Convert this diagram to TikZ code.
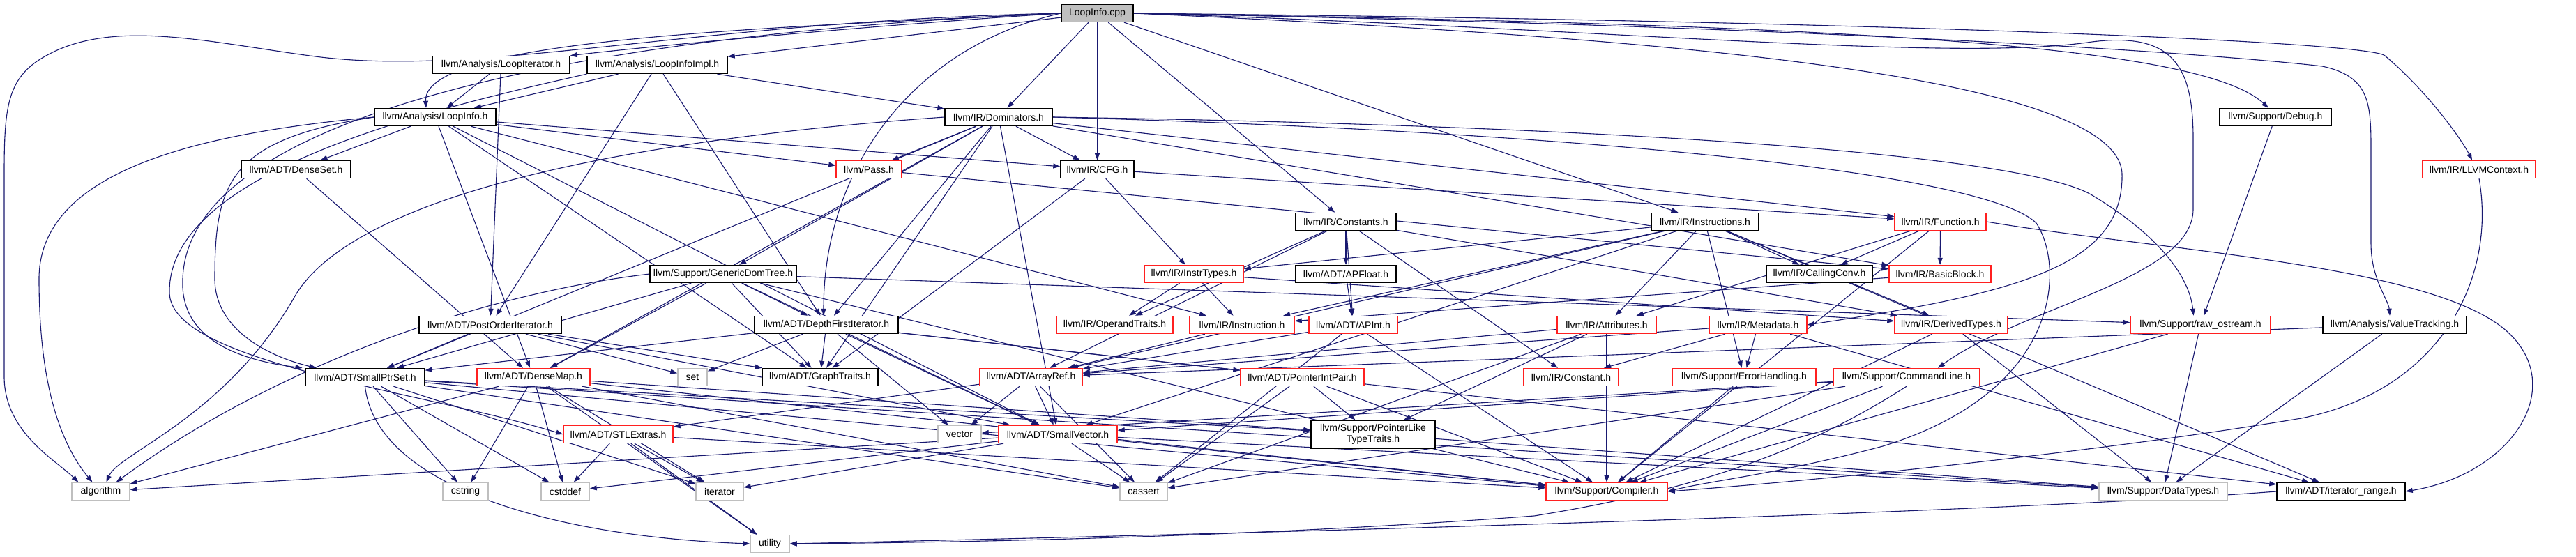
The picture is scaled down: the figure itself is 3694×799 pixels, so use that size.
\documentclass[tikz,border=0pt]{standalone}
\usepackage{fontspec}
\newfontfamily\dotfont{Liberation Sans}
\usetikzlibrary{arrows.meta,backgrounds}
\definecolor{edgeblue}{HTML}{191970}
\definecolor{leafgray}{HTML}{BFBFBF}
\definecolor{trunc}{HTML}{FF2020}
\begin{document}
\begin{tikzpicture}[x=1pt,y=-1pt,
  hdr/.style={draw=black,fill=white,line width=1.4pt,minimum height=25pt,inner xsep=1pt,inner ysep=0pt,font=\dotfont\fontsize{14}{15.5}\selectfont},
  cut/.style={hdr,draw=trunc},
  leaf/.style={hdr,draw=leafgray},
  dep/.style={draw=edgeblue,line width=1.1pt,-{Triangle[length=10pt,width=7pt]}}]
\useasboundingbox (0,0) rectangle (3694,799);
\node[hdr,fill=leafgray,minimum width=103pt] (cpp) at (1573.5,19) {LoopInfo.cpp};
% complete headers
\foreach \n/\px/\py/\w/\t in {liter/718.5/93/197/{llvm/Analysis/LoopIterator.h}, limpl/942.5/93/201/{llvm/Analysis/LoopInfoImpl.h},
  loopinfo/624/168/174/{llvm/Analysis/LoopInfo.h}, dom/1432/168/154/{llvm/IR/Dominators.h}, debug/3263/168/160/{llvm/Support/Debug.h},
  denseset/424.5/243/157/{llvm/ADT/DenseSet.h}, cfg/1573.5/243/105/{llvm/IR/CFG.h},
  consts/1930/318/144/{llvm/IR/Constants.h}, instrs/2445/318/154/{llvm/IR/Instructions.h},
  gdt/1037/393/210/{llvm/Support/GenericDomTree.h}, apfloat/1930/393/144/{llvm/ADT/APFloat.h}, callconv/2609/393/152/{llvm/IR/CallingConv.h},
  poi/703/466/204/{llvm/ADT/PostOrderIterator.h}, dfi/1185/466/206/{llvm/ADT/DepthFirstIterator.h}, valtrk/3434/466/206/{llvm/Analysis/ValueTracking.h},
  sptr/523.5/541/171/{llvm/ADT/SmallPtrSet.h}, graph/1176/541/166/{llvm/ADT/GraphTraits.h},
  iterrange/3357/705/184/{llvm/ADT/iterator\_range.h}}
  \node[hdr,minimum width=\w pt] (\n) at (\px,\py) {\t};
\node[hdr,align=center,minimum width=178pt,minimum height=40pt] (pltt) at (1969,623) {llvm/Support/PointerLike\\TypeTraits.h};
% truncated headers
\foreach \n/\px/\py/\w/\t in {pass/1246/243/94/{llvm/Pass.h}, llvmctx/3555/243/162/{llvm/IR/LLVMContext.h},
  func/2782.5/318/131/{llvm/IR/Function.h}, instrtypes/1712/393/142/{llvm/IR/InstrTypes.h}, bb/2782/393/146/{llvm/IR/BasicBlock.h},
  optraits/1598.5/466/167/{llvm/IR/OperandTraits.h}, instr/1781/466/150/{llvm/IR/Instruction.h}, apint/1940.5/466/127/{llvm/ADT/APInt.h},
  attrs/2304/466/142/{llvm/IR/Attributes.h}, metadata/2521/466/140/{llvm/IR/Metadata.h}, dtypes/2798/466/162/{llvm/IR/DerivedTypes.h},
  rawos/3155.5/466/201/{llvm/Support/raw\_ostream.h},
  dmap/765/541/162/{llvm/ADT/DenseMap.h}, arrayref/1478.5/541/147/{llvm/ADT/ArrayRef.h}, pip/1867.5/541/177/{llvm/ADT/PointerIntPair.h},
  constant/2253/541/136/{llvm/IR/Constant.h}, errh/2501/541/206/{llvm/Support/ErrorHandling.h}, cmdline/2734/541/210/{llvm/Support/CommandLine.h},
  stlx/886.5/623/157/{llvm/ADT/STLExtras.h}, svec/1517/623/170/{llvm/ADT/SmallVector.h}, compiler/2304/705/174/{llvm/Support/Compiler.h}}
  \node[cut,minimum width=\w pt] (\n) at (\px,\py) {\t};
% system and untracked headers
\foreach \n/\px/\py/\w/\t in {set/993/541/42/set, vector/1376/623/62/vector, alg/144.5/705/83/algorithm, cstring/667.5/705/65/cstring,
  cstddef/810.5/705/69/cstddef, iterator/1032/705/68/iterator, cassert/1640/705/68/cassert,
  datatypes/3102/705/184/{llvm/Support/DataTypes.h}, utility/1104/780/56/utility}
  \node[leaf,minimum width=\w pt] (\n) at (\px,\py) {\t};
\begin{scope}[on background layer]
\fill[white] (0,0) rectangle (3694,799);
\foreach \a/\b in {cpp/dom, cpp/cfg, cpp/consts, cpp/instrs, cpp/limpl,
  liter/loopinfo, liter/poi, limpl/loopinfo, limpl/dom, limpl/poi, limpl/dfi,
  loopinfo/denseset, loopinfo/dmap, loopinfo/graph, loopinfo/cfg, loopinfo/pass, loopinfo/instr, loopinfo/svec, denseset/dmap,
  dom/gdt, dom/pass, dom/cfg, dom/dfi, dom/graph, dom/svec, dom/sptr, dom/dmap, dom/func, dom/bb,
  cfg/func, cfg/instrtypes, cfg/graph, pass/bb,
  gdt/dfi, gdt/graph, gdt/sptr, gdt/dmap, gdt/svec, gdt/compiler, gdt/rawos,
  consts/apfloat, consts/apint, consts/arrayref, consts/constant, consts/optraits, consts/dtypes,
  instrs/instrtypes, instrs/instr, instrs/arrayref, instrs/svec, instrs/iterrange, instrs/attrs, instrs/callconv, instrs/dtypes, instrs/errh,
  func/bb, func/callconv, func/attrs, func/compiler, instrtypes/instr, instrtypes/optraits, instrtypes/dtypes, bb/instr,
  apfloat/apint, apint/arrayref, apint/compiler, apint/cassert,
  poi/graph, poi/sptr, poi/svec, poi/set, dfi/graph, dfi/sptr, dfi/svec, dfi/set, dfi/vector, dfi/pip, dfi/iterrange,
  instr/arrayref, attrs/arrayref, attrs/compiler, attrs/pltt, attrs/cassert,
  metadata/arrayref, metadata/constant, metadata/errh, metadata/iterrange,
  dtypes/compiler, dtypes/datatypes, rawos/compiler, rawos/datatypes, valtrk/arrayref, valtrk/datatypes, debug/rawos, errh/compiler,
  cmdline/compiler, cmdline/svec, cmdline/cassert, cmdline/vector,
  arrayref/svec, arrayref/vector, arrayref/stlx, arrayref/cassert, pip/pltt, pip/compiler, pip/cassert, pltt/datatypes,
  svec/alg, svec/cstddef, svec/iterator, svec/cassert, svec/compiler, svec/datatypes,
  stlx/cstddef, stlx/iterator, stlx/utility, stlx/compiler,
  sptr/cstring, sptr/cstddef, sptr/iterator, sptr/cassert, sptr/compiler, sptr/datatypes, sptr/pltt,
  dmap/alg, dmap/cstring, dmap/cstddef, dmap/iterator, dmap/utility, dmap/cassert, dmap/compiler, dmap/pltt}
  \draw[dep] (\a) -- (\b);
% long detours
\draw[dep] (cpp.west) .. controls (1000,30) and (700,110) .. (460,82) .. controls (300,62) and (150,20) .. (50,90) .. controls (10,120) and (6,160) .. (6,250) -- (6,540) .. controls (6,620) and (80,660) .. ([xshift=-32pt]alg.north);
\draw[dep] (cpp.west) .. controls (1100,40) and (605,55) .. ([xshift=-13pt]loopinfo.north);
\draw[dep] (cpp.west) .. controls (1200,40) and (900,70) .. (liter.north east);
\draw[dep] (cpp.west) .. controls (900,45) and (270,150) .. (262,400) .. controls (258,480) and (330,515) .. ([xshift=-90pt]sptr.north);
\draw[dep] (cpp.west) .. controls (1300,70) and (1181,250) .. ([xshift=-4pt]dfi.north);
\draw[dep] (limpl.south west) .. controls (600,160) and (240,250) .. (243,420) .. controls (245,520) and (600,560) .. (stlx.west);
\draw[dep] (loopinfo.west) .. controls (300,190) and (56,240) .. (56,400) .. controls (56,560) and (90,640) .. ([xshift=-12pt]alg.north);
\draw[dep] (loopinfo.west) .. controls (330,200) and (308,260) .. (308,400) .. controls (308,470) and (380,510) .. ([xshift=-70pt]sptr.north);
\draw[dep] (dom.west) .. controls (900,200) and (500,280) .. (420,430) .. controls (320,600) and (170,650) .. ([xshift=8pt]alg.north);
\draw[dep] (gdt.west) .. controls (700,420) and (400,520) .. ([xshift=22pt]alg.north);
\draw[dep] (cpp.east) .. controls (2300,50) and (3040,100) .. (3043,250) .. controls (3045,380) and (2900,420) .. (metadata.east);
\draw[dep] (cpp.east) .. controls (2300,40) and (2800,90) .. (3000,60) .. controls (3120,45) and (3145,100) .. (3145,200) -- (3145,300) .. controls (3145,400) and (2900,440) .. ([xshift=45pt]cmdline.north);
\draw[dep] (cpp.east) .. controls (2600,35) and (3150,60) .. ([xshift=-10pt]debug.north);
\draw[dep] (cpp.east) .. controls (2700,40) and (3200,80) .. (3330,95) .. controls (3400,110) and (3400,150) .. (3400,220) -- (3400,350) .. controls (3400,400) and (3425,430) .. ([xshift=-7pt]valtrk.north);
\draw[dep] (cpp.east) .. controls (2700,30) and (3400,60) .. (3420,80) .. controls (3480,130) and (3530,200) .. ([xshift=-10pt]llvmctx.north);
\draw[dep] (dom.east) .. controls (2300,180) and (2900,220) .. (3000,280) .. controls (3100,340) and (3140,400) .. ([xshift=-10pt]rawos.north);
\draw[dep] (dom.east) .. controls (2300,190) and (2850,250) .. (2920,320) .. controls (2960,380) and (2960,560) .. (2700,640) .. controls (2550,680) and (2450,690) .. (compiler.east);
\draw[dep] (llvmctx.south) .. controls (3580,400) and (3500,560) .. (3300,600) .. controls (3000,650) and (2600,690) .. (compiler.east);
\draw[dep] (func.east) .. controls (3100,360) and (3500,380) .. (3600,480) .. controls (3680,560) and (3600,680) .. (iterrange.east);
\draw[dep] (iterrange.west) .. controls (2800,740) and (1600,770) .. (utility.east);
\draw[dep] (cmdline.south) .. controls (2600,640) and (2450,700) .. (2200,740) .. controls (1800,770) and (1400,778) .. (utility.east);
\draw[dep] (sptr.south) .. controls (540,700) and (800,770) .. (utility.west);
\end{scope}
\end{tikzpicture}
\end{document}
